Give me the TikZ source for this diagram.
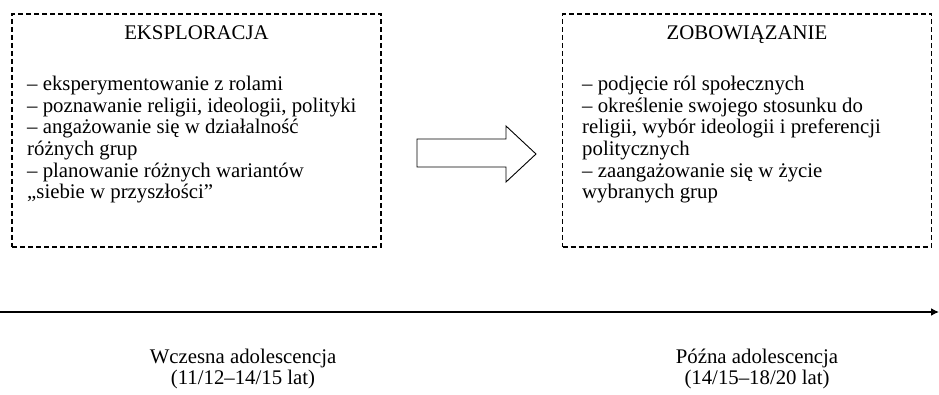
\documentclass[tikz,border=0pt]{standalone}
\usepackage{fontspec}
\setmainfont{Liberation Serif}
\usetikzlibrary{arrows.meta}

\tikzset{
    stagebox/.style={draw,dash pattern=on 5pt off 3pt,line width=1.1pt,
        minimum width=369pt,minimum height=233pt,inner sep=0pt},
    stagetitle/.style={anchor=base,inner sep=0pt},
    stagelist/.style={anchor=north west,align=left,inner sep=0pt},
    agelabel/.style={align=center,inner sep=0pt},
}

\begin{document}
\begin{tikzpicture}[x=1pt,y=-1pt]
    \fontsize{20.8}{21.6}\selectfont
    \useasboundingbox (0,0) rectangle (939,395);

    % stages
    \node [stagebox] (expl) at (196.5,130.5) {};
    \node [stagebox] (zobo) at (747,130.5) {};

    \node [stagetitle] (explTitle) at (expl.center |- 0,40) {EKSPLORACJA};
    \node [stagetitle] (zoboTitle) at (zobo.center |- 0,40) {ZOBOWIĄZANIE};

    \node [stagelist] (explList) at (27,76) {%
        -- eksperymentowanie z rolami\\
        -- poznawanie religii, ideologii, polityki\\
        -- angażowanie się w działalność\\
        różnych grup\\
        -- planowanie różnych wariantów\\
        ,,siebie w przyszłości''};
    \node [stagelist] (zoboList) at (582,76) {%
        -- podjęcie ról społecznych\\
        -- określenie swojego stosunku do\\
        religii, wybór ideologii i preferencji\\
        politycznych\\
        -- zaangażowanie się w życie\\
        wybranych grup};

    % block arrow
    \draw [line width=0.9pt]
        (417,139) -- (506,139) -- (506,126) -- (536,154)
        -- (506,182) -- (506,167) -- (417,167) -- cycle
    ;

    % time axis
    \coordinate (axisStart) at (0,312);
    \coordinate (axisEnd) at (939,312);
    \draw [line width=1.7pt,-{Latex[length=8pt,width=8pt]}] (axisStart) -- (axisEnd);

    \node [agelabel] (early) at (243,369) {Wczesna adolescencja\\(11/12--14/15 lat)};
    \node [agelabel] (late) at (757,369) {Późna adolescencja\\(14/15--18/20 lat)};
\end{tikzpicture}
\end{document}
